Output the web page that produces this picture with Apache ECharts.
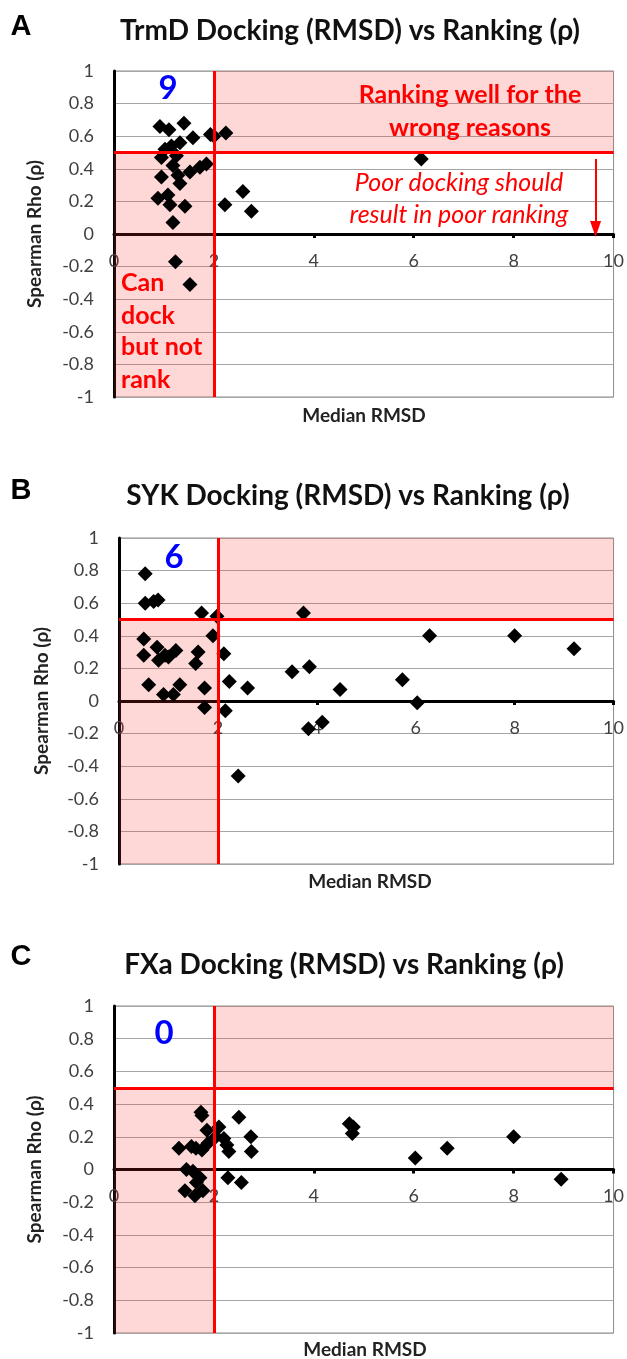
<!DOCTYPE html>
<html><head><meta charset="utf-8">
<script src="https://cdn.jsdelivr.net/npm/echarts@6/dist/echarts.min.js"></script>
<style>html,body{margin:0;padding:0;background:#fff}#c{width:627px;height:1359px}</style>
</head><body><div id="c"></div>
<script>
// ---- data ----
const xTicks = [0, 2, 4, 6, 8, 10];
const yTicks = [-1, -0.8, -0.6, -0.4, -0.2, 0, 0.2, 0.4, 0.6, 0.8, 1];
const RMSD_CUT = 2;
const RHO_CUT = 0.5;

const trmdRMSD = [0.92,1.10,1.40,1.58,1.93,2.24,2.00,1.32,1.15,1.02,0.95,1.25,1.18,1.52,1.72,1.85,0.95,1.28,1.32,0.88,1.08,1.12,1.42,1.18,2.22,2.58,2.75,6.15,1.23,1.52];
const trmdRho  = [0.66,0.64,0.68,0.59,0.61,0.62,0.60,0.56,0.54,0.52,0.47,0.48,0.42,0.38,0.41,0.43,0.35,0.36,0.31,0.22,0.24,0.18,0.17,0.07,0.18,0.26,0.14,0.46,-0.17,-0.31];

const sykRMSD = [0.53,0.53,0.70,0.79,1.67,1.98,3.73,1.90,0.50,0.77,0.50,0.80,0.93,1.00,1.15,1.60,1.55,2.12,0.60,0.90,1.10,1.23,1.73,2.23,2.60,1.73,2.15,3.50,3.85,4.47,3.83,4.11,2.41,6.28,8.00,9.20,5.73,6.03];
const sykRho  = [0.78,0.60,0.61,0.62,0.54,0.52,0.54,0.40,0.38,0.33,0.28,0.25,0.28,0.27,0.31,0.30,0.23,0.29,0.10,0.04,0.04,0.10,0.08,0.12,0.08,-0.04,-0.06,0.18,0.21,0.07,-0.17,-0.13,-0.46,0.40,0.40,0.32,0.13,-0.01];

const fxaRMSD = [1.74,1.76,1.86,2.10,2.20,2.04,2.26,2.30,2.50,2.74,2.75,1.30,1.55,1.64,1.76,1.88,1.45,1.58,1.72,1.65,1.42,1.62,1.78,2.28,2.55,4.71,4.79,4.77,6.03,6.67,8.00,8.95];
const fxaRho  = [0.35,0.33,0.24,0.26,0.19,0.20,0.15,0.11,0.32,0.20,0.11,0.13,0.14,0.13,0.12,0.16,0.00,-0.01,-0.05,-0.08,-0.13,-0.16,-0.13,-0.05,-0.08,0.28,0.26,0.22,0.07,0.13,0.20,-0.06];

const panels = [
  {letter:'A', title:'TrmD Docking (RMSD) vs Ranking (ρ)', count:'9', xs:trmdRMSD, ys:trmdRho,
   grid:{left:114, top:71, width:501, height:326}, letterY:27, titleX:350, titleY:31, nameY:416, nameX:364, countX:168, countY:88, yNameGap:70},
  {letter:'B', title:'SYK Docking (RMSD) vs Ranking (ρ)', count:'6', xs:sykRMSD, ys:sykRho,
   grid:{left:119, top:538, width:502, height:326}, letterY:491, titleX:348, titleY:496, nameY:882, nameX:370, countX:174, countY:557, yNameGap:68},
  {letter:'C', title:'FXa Docking (RMSD) vs Ranking (ρ)', count:'0', xs:fxaRMSD, ys:fxaRho,
   grid:{left:114, top:1006, width:501, height:327}, letterY:957, titleX:344, titleY:965, nameY:1350, nameX:365, countX:164, countY:1033, yNameGap:70}
];

const FONT = 'Lato, "Open Sans", sans-serif';
const grids = [], xAxes = [], yAxes = [], series = [], graphics = [];
const pink = 'rgba(250,40,40,0.19)';

panels.forEach((p, i) => {
  grids.push(Object.assign({show:true, borderColor:'#8c8c8c', borderWidth:1, backgroundColor:'transparent'}, p.grid));
  xAxes.push({gridIndex:i, type:'value', min:xTicks[0], max:xTicks[xTicks.length-1], interval:2,
    position:'bottom', offset:-p.grid.height / 2,
    axisLine:{onZero:false, lineStyle:{color:'#000', width:3}},
    axisTick:{show:true, length:4, inside:false, lineStyle:{color:'#000', width:3}},
    axisLabel:{color:'#404040', fontSize:18, fontFamily:FONT, margin:18, showMinLabel:true, showMaxLabel:true},
    splitLine:{show:false}});
  yAxes.push({gridIndex:i, type:'value', min:yTicks[0], max:yTicks[yTicks.length-1], interval:0.2,
    name:'Spearman Rho (ρ)', nameLocation:'middle', nameRotate:90, nameGap:p.yNameGap,
    nameTextStyle:{color:'#222', fontSize:19, fontWeight:'bold', fontFamily:FONT},
    axisLine:{show:true, onZero:false, lineStyle:{color:'#000', width:3}},
    axisTick:{show:false},
    axisLabel:{color:'#404040', fontSize:18, fontFamily:FONT, margin:20, formatter:v => String(+v.toFixed(1))},
    splitLine:{show:true, lineStyle:{color:'#a6a6a6', width:1}}});
  series.push({type:'scatter', xAxisIndex:i, yAxisIndex:i, z:2, symbol:'diamond', symbolSize:15,
    itemStyle:{color:'#000', opacity:1}, silent:true,
    data:p.xs.map((x, k) => [x, p.ys[k]])});
  series.push({type:'scatter', xAxisIndex:i, yAxisIndex:i, z:3, data:[], silent:true,
    markArea:{silent:true, itemStyle:{color:pink},
      data:[[{coord:[xTicks[0], yTicks[0]]}, {coord:[RMSD_CUT, RHO_CUT]}],
            [{coord:[RMSD_CUT, RHO_CUT]}, {coord:[xTicks[xTicks.length-1], yTicks[yTicks.length-1]]}]]}});
  const lines = [
    [{coord:[RMSD_CUT, yTicks[0]]}, {coord:[RMSD_CUT, yTicks[yTicks.length-1]]}],
    [{coord:[xTicks[0], RHO_CUT]}, {coord:[xTicks[xTicks.length-1], RHO_CUT]}]
  ];
  series.push({type:'scatter', xAxisIndex:i, yAxisIndex:i, z:4, data:[], silent:true,
    markLine:{silent:true, symbol:'none', animation:false, label:{show:false},
      lineStyle:{color:'#ff0000', width:3, type:'solid'}, data:lines}});
  if (i === 0) {
    series.push({type:'scatter', xAxisIndex:i, yAxisIndex:i, z:4, data:[], silent:true,
      markLine:{silent:true, animation:false, label:{show:false}, symbolSize:[11,16],
        lineStyle:{color:'#ff0000', width:2, type:'solid'},
        data:[[{coord:[9.64, 0.46], symbol:'none'}, {coord:[9.64, 0.03], symbol:'triangle', symbolRotate:180}]]}});
  }
  graphics.push({type:'text', x:21, y:p.letterY, style:{text:p.letter, fill:'#000', font:'bold 29px "Liberation Sans", Arial, sans-serif', textAlign:'center', textVerticalAlign:'middle'}});
  graphics.push({type:'text', x:p.titleX, y:p.titleY, style:{text:p.title, fill:'#111', font:'bold 28px ' + FONT, textAlign:'center', textVerticalAlign:'middle'}});
  graphics.push({type:'text', x:p.nameX, y:p.nameY, style:{text:'Median RMSD', fill:'#222', font:'bold 19px ' + FONT, textAlign:'center', textVerticalAlign:'middle'}});
  graphics.push({type:'text', x:p.countX, y:p.countY, z:10, style:{text:p.count, fill:'#0000ff', font:'bold 33px ' + FONT, textAlign:'center', textVerticalAlign:'middle'}});
});

// Panel A annotations
const red = '#ff0000';
[['Ranking well for the', 470, 95], ['wrong reasons', 470, 128]].forEach(t =>
  graphics.push({type:'text', x:t[1], y:t[2], z:10, style:{text:t[0], fill:red, font:'bold 25px ' + FONT, textAlign:'center', textVerticalAlign:'middle'}}));
[['Poor docking should', 459, 183], ['result in poor ranking', 459, 215]].forEach(t =>
  graphics.push({type:'text', x:t[1], y:t[2], z:10, style:{text:t[0], fill:red, font:'italic 25px ' + FONT, textAlign:'center', textVerticalAlign:'middle'}}));
[['Can', 283], ['dock', 316], ['but not', 347], ['rank', 380]].forEach(t =>
  graphics.push({type:'text', x:121, y:t[1], z:10, style:{text:t[0], fill:red, font:'bold 25px ' + FONT, textAlign:'left', textVerticalAlign:'middle'}}));

const chart = echarts.init(document.getElementById('c'), null, {renderer:'canvas'});
chart.setOption({animation:false, backgroundColor:'#fff', grid:grids, xAxis:xAxes, yAxis:yAxes, series:series, graphic:graphics});
</script></body></html>
